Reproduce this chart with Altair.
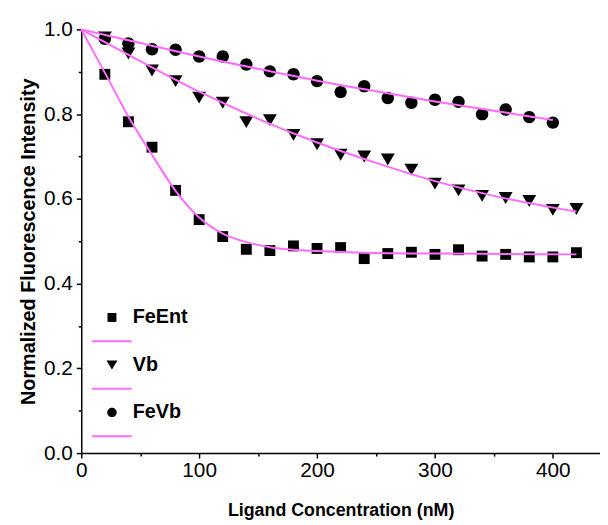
import altair as alt
import pandas as pd

PINK = "#ff6cff"
FONT = "Liberation Sans"

# ---- measured data ----
conc = [20, 40, 60, 80, 100, 120, 140, 160, 180, 200, 220,
        240, 260, 280, 300, 320, 340, 360, 380, 400, 420]
feent = [0.894, 0.782, 0.722, 0.620, 0.551, 0.511, 0.481, 0.478, 0.489, 0.483, 0.485,
         0.459, 0.471, 0.474, 0.469, 0.480, 0.465, 0.469, 0.463, 0.463, 0.473]
vb = [0.981, 0.943, 0.903, 0.878, 0.839, 0.827, 0.781, 0.786, 0.751, 0.729, 0.704,
      0.700, 0.693, 0.669, 0.636, 0.620, 0.607, 0.602, 0.595, 0.574, 0.576]
fevb_conc = [20, 40, 60, 80, 100, 120, 140, 160, 180, 200,
             220, 240, 260, 280, 300, 320, 340, 360, 380, 400]
fevb = [0.978, 0.967, 0.953, 0.952, 0.936, 0.936, 0.917, 0.901, 0.894, 0.878,
        0.852, 0.866, 0.838, 0.827, 0.834, 0.829, 0.800, 0.811, 0.793, 0.780]

# fitted curves
fit_feent_x = [0, 20, 40, 60, 80, 100, 120, 140, 160, 180, 200, 240, 300, 360, 420]
fit_feent_y = [1.0, 0.898, 0.794, 0.704, 0.619, 0.556, 0.518, 0.498, 0.486, 0.480,
               0.477, 0.473, 0.471, 0.470, 0.469]
fit_vb_x = [0, 50, 100, 150, 200, 250, 300, 350, 420]
fit_vb_y = [1.0, 0.925, 0.853, 0.789, 0.733, 0.685, 0.642, 0.607, 0.570]
fit_fevb_x = [0, 50, 100, 150, 200, 250, 300, 350, 400]
fit_fevb_y = [1.0, 0.968, 0.936, 0.907, 0.879, 0.854, 0.830, 0.808, 0.786]

x_major = [0, 100, 200, 300, 400]
x_minor = [50, 150, 250, 350]
y_major = [0.0, 0.2, 0.4, 0.6, 0.8, 1.0]
y_minor = [0.1, 0.3, 0.5, 0.7, 0.9]

legend_keys = ["FeEnt", " ", "Vb", "  ", "FeVb", "   "]

# ---- tables ----
pts = pd.DataFrame({
    "conc": conc + conc + fevb_conc,
    "value": feent + vb + fevb,
    "series": ["FeEnt"] * len(conc) + ["Vb"] * len(conc) + ["FeVb"] * len(fevb_conc),
})
fit = pd.DataFrame({
    "conc": fit_feent_x + fit_vb_x + fit_fevb_x,
    "value": fit_feent_y + fit_vb_y + fit_fevb_y,
    "series": ["FeEnt"] * len(fit_feent_x) + ["Vb"] * len(fit_vb_x) + ["FeVb"] * len(fit_fevb_x),
})
leg = pd.DataFrame({"key": legend_keys})

# ---- marker shapes (unit paths) ----
SQ = "M-1.1,-1.1H1.1V1.1H-1.1Z"
TRI = "M-1.4,-1.2H1.4L0,1.2Z"
CIR = "M-1.25,0A1.25,1.25,0,1,0,1.25,0A1.25,1.25,0,1,0,-1.25,0Z"
SQ_L = "M-0.9,-0.9H0.9V0.9H-0.9Z"
TRI_L = "M-1.1,-0.9H1.1L0,0.9Z"
CIR_L = "M-0.95,0A0.95,0.95,0,1,0,0.95,0A0.95,0.95,0,1,0,-0.95,0Z"
LINE_L = "M-4,0H4"

xs = alt.Scale(domain=[0, 440], nice=False, zero=False)
ys = alt.Scale(domain=[0, 1], nice=False)

major_x = alt.Axis(
    orient="bottom", values=x_major, format="d", grid=False,
    tickSize=5, tickWidth=1.5, tickColor="black",
    domainColor="black", domainWidth=1.5,
    labelFont=FONT, labelFontSize=21, labelColor="black", labelPadding=2,
    labelFlush=False, labelOverlap=False,
    title="Ligand Concentration (nM)", titleFont=FONT, titleFontSize=18,
    titleFontWeight="bold", titleColor="black", titlePadding=21,
)
major_y = alt.Axis(
    orient="left", values=y_major, format=".1f", grid=False,
    tickSize=5, tickWidth=1.5, tickColor="black",
    domainColor="black", domainWidth=1.5,
    labelFont=FONT, labelFontSize=21, labelColor="black", labelPadding=4,
    labelFlush=False, labelOverlap=False,
    title="Normalized Fluorescence Intensity", titleFont=FONT, titleFontSize=20,
    titleFontWeight="bold", titleColor="black", titlePadding=5,
)
minor_x = alt.Axis(orient="bottom", values=x_minor, labels=False, domain=False,
                   grid=False, tickSize=3, tickWidth=1.5, tickColor="black", title=None)
minor_y = alt.Axis(orient="left", values=y_minor, labels=False, domain=False,
                   grid=False, tickSize=3, tickWidth=1.5, tickColor="black", title=None)


def pts_layer(name, shape, axis_x, axis_y):
    return (
        alt.Chart(pts)
        .transform_filter(alt.datum.series == name)
        .mark_point(shape=shape, filled=True, size=100, color="black", opacity=1)
        .encode(
            x=alt.X("conc:Q", scale=xs, axis=axis_x),
            y=alt.Y("value:Q", scale=ys, axis=axis_y),
        )
    )


p1 = pts_layer("FeEnt", SQ, minor_x, minor_y)
p2 = pts_layer("Vb", TRI, None, None)
p3 = pts_layer("FeVb", CIR, None, None)

lines = (
    alt.Chart(fit)
    .mark_line(color=PINK, strokeWidth=2, interpolate="monotone")
    .encode(
        x=alt.X("conc:Q", scale=xs, axis=major_x),
        y=alt.Y("value:Q", scale=ys, axis=major_y),
        detail="series:N",
    )
)

LEG = alt.Legend(
    title=None, orient="none", legendX=21, legendY=281, padding=0,
    labelFont=FONT, labelFontSize=20, labelFontWeight="bold", labelColor="black",
    symbolSize=100, symbolStrokeWidth=2, symbolOpacity=1, rowPadding=4, labelOffset=11,
)

legend_layer = (
    alt.Chart(leg)
    .transform_filter("false")
    .mark_point(opacity=1)
    .encode(
        shape=alt.Shape("key:N", scale=alt.Scale(domain=legend_keys,
                        range=[SQ_L, LINE_L, TRI_L, LINE_L, CIR_L, LINE_L]), legend=LEG),
        fill=alt.Fill("key:N", scale=alt.Scale(domain=legend_keys,
                      range=["black", "transparent", "black", "transparent", "black", "transparent"]),
                      legend=LEG),
        stroke=alt.Stroke("key:N", scale=alt.Scale(domain=legend_keys,
                          range=["transparent", PINK, "transparent", PINK, "transparent", PINK]),
                          legend=LEG),
    )
)

chart = (
    alt.layer(p1, p2, p3, lines, legend_layer)
    .resolve_axis(x="independent", y="independent")
    .properties(
        width=524, height=428,
        autosize=alt.AutoSizeParams(type="none"),
        padding={"left": 74, "top": 19, "right": 0, "bottom": 68},
        background="white",
    )
    .configure_view(stroke=None)
)

chart.save("out.html", embed_options={"renderer": "svg", "actions": False})
